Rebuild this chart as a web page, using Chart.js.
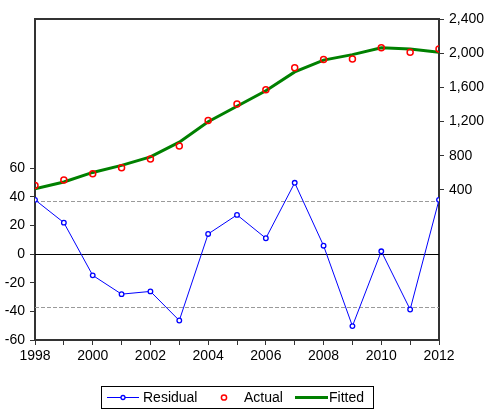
<!DOCTYPE html>
<html>
<head>
<meta charset="utf-8">
<script src="https://cdn.jsdelivr.net/npm/chart.js@4/dist/chart.umd.min.js"></script>
<style>
  html, body { margin: 0; padding: 0; background: #fff; }
  canvas { display: block; }
</style>
</head>
<body>
<canvas id="c" width="486" height="410"></canvas>
<script>
// Observation years
const years = [1998, 1999, 2000, 2001, 2002, 2003, 2004, 2005, 2006, 2007, 2008, 2009, 2010, 2011, 2012];
// Residuals (left axis)
const residual = [37.8, 21.9, -14.9, -28.0, -26.1, -46.4, 14.0, 27.3, 11.0, 49.7, 5.8, -50.3, 1.9, -38.7, 37.8];
// Actual and fitted values (right axis)
const actual = [452, 516, 590, 660, 761, 913, 1212, 1407, 1571, 1831, 1925, 1933, 2065, 2011, 2050];
const fitted = [414, 494, 605, 688, 787, 959, 1198, 1380, 1560, 1781, 1919, 1983, 2063, 2050, 2012];
// Reference levels on the residual axis: zero and +/- one standard error
const zeroLevel = [0];
const seBand = [36.7, -36.7];
// Tick labels shown on each axis
const leftTicks = [-60, -40, -20, 0, 20, 40, 60];
const rightTicks = [400, 800, 1200, 1600, 2000, 2400];
const xLabelYears = [1998, 2000, 2002, 2004, 2006, 2008, 2010, 2012];

const FONT = "'Liberation Sans', Arial, sans-serif";
const AXIS_COLOR = '#333333';

const pts = arr => years.map((x, i) => ({ x: x, y: arr[i] }));

// Horizontal reference lines and the top frame edge
const refLines = {
  id: 'refLines',
  beforeDatasetsDraw(chart) {
    const { ctx, chartArea: a } = chart;
    const yL = chart.scales.yL;
    ctx.save();
    ctx.lineWidth = 1;
    ctx.strokeStyle = '#9a9a9a';
    ctx.setLineDash([4, 2]);
    seBand.forEach(v => {
      const y = Math.round(yL.getPixelForValue(v)) + 0.5;
      ctx.beginPath(); ctx.moveTo(a.left, y); ctx.lineTo(a.right, y); ctx.stroke();
    });
    ctx.setLineDash([]);
    ctx.strokeStyle = '#000';
    zeroLevel.forEach(v => {
      const y = Math.round(yL.getPixelForValue(v)) + 0.5;
      ctx.beginPath(); ctx.moveTo(a.left, y); ctx.lineTo(a.right, y); ctx.stroke();
    });
    ctx.restore();
  },
  afterDraw(chart) {
    const { ctx, chartArea: a } = chart;
    ctx.save();
    ctx.strokeStyle = AXIS_COLOR;
    ctx.lineWidth = 2;
    ctx.beginPath(); ctx.moveTo(a.left - 1, a.top); ctx.lineTo(a.right + 1, a.top); ctx.stroke();
    ctx.restore();
  }
};

// Boxed legend under the plot
const boxLegend = {
  id: 'boxLegend',
  afterDraw(chart) {
    const ctx = chart.ctx;
    const ds = chart.data.datasets;
    ctx.save();
    ctx.strokeStyle = '#000';
    ctx.lineWidth = 1;
    ctx.strokeRect(101.5, 386.5, 272, 22);
    ctx.font = '14px ' + FONT;
    ctx.fillStyle = '#000';
    ctx.textBaseline = 'alphabetic';
    const ty = 402;
    const my = 397.5;
    // Residual: line with marker
    ctx.strokeStyle = ds[0].borderColor; ctx.lineWidth = 1;
    ctx.beginPath(); ctx.moveTo(107, my); ctx.lineTo(139, my); ctx.stroke();
    ctx.beginPath(); ctx.arc(123, my, 2, 0, Math.PI * 2);
    ctx.fillStyle = '#fff'; ctx.fill(); ctx.lineWidth = 1.3; ctx.stroke();
    ctx.fillStyle = '#000';
    ctx.fillText(ds[0].label, 143, ty);
    // Actual: open circle
    ctx.strokeStyle = ds[1].pointBorderColor; ctx.lineWidth = 1.5;
    ctx.beginPath(); ctx.arc(224, my, 2.6, 0, Math.PI * 2); ctx.stroke();
    ctx.fillText(ds[1].label, 244, ty);
    // Fitted: thick line
    ctx.strokeStyle = ds[2].borderColor; ctx.lineWidth = 3;
    ctx.beginPath(); ctx.moveTo(295, my); ctx.lineTo(328, my); ctx.stroke();
    ctx.fillText(ds[2].label, 329, ty);
    ctx.restore();
  }
};

new Chart(document.getElementById('c'), {
  type: 'line',
  data: {
    datasets: [
      {
        label: 'Residual',
        data: pts(residual),
        yAxisID: 'yL',
        borderColor: '#0000ff',
        borderWidth: 1,
        pointRadius: 2.3,
        pointBackgroundColor: '#ffffff',
        pointBorderColor: '#0000ff',
        pointBorderWidth: 1.3,
        tension: 0
      },
      {
        label: 'Actual',
        data: pts(actual),
        yAxisID: 'yR',
        showLine: false,
        pointRadius: 3,
        pointBackgroundColor: 'rgba(0,0,0,0)',
        pointBorderColor: '#ff0000',
        pointBorderWidth: 1.5
      },
      {
        label: 'Fitted',
        data: pts(fitted),
        yAxisID: 'yR',
        borderColor: '#008000',
        borderWidth: 3,
        pointRadius: 0,
        tension: 0
      }
    ]
  },
  options: {
    responsive: false,
    devicePixelRatio: 1,
    animation: false,
    layout: { padding: { top: 19, bottom: 40, left: 0, right: 0 } },
    plugins: { legend: { display: false }, tooltip: { enabled: false } },
    scales: {
      x: {
        type: 'linear',
        position: 'bottom',
        min: years[0],
        max: years[years.length - 1],
        afterBuildTicks: axis => { axis.ticks = years.map(v => ({ value: v })); },
        afterFit: axis => { axis.height = 30; },
        ticks: {
          autoSkip: false,
          maxRotation: 0,
          padding: 3,
          color: '#000',
          font: { family: FONT, size: 14 },
          callback: v => xLabelYears.includes(v) ? String(v) : ''
        },
        grid: { drawOnChartArea: false, drawTicks: true, tickLength: 5, color: AXIS_COLOR, tickWidth: 1 },
        border: { display: true, color: AXIS_COLOR, width: 2 }
      },
      yL: {
        type: 'linear',
        position: 'left',
        min: -60,
        max: 164,
        afterBuildTicks: axis => { axis.ticks = leftTicks.map(v => ({ value: v })); },
        afterFit: axis => { axis.width = 35; },
        ticks: {
          padding: 5,
          color: '#000',
          font: { family: FONT, size: 14 },
          callback: v => String(v)
        },
        grid: { drawOnChartArea: false, drawTicks: true, tickLength: 5, color: AXIS_COLOR, tickWidth: 1 },
        border: { display: true, color: AXIS_COLOR, width: 2 }
      },
      yR: {
        type: 'linear',
        position: 'right',
        min: -1355,
        max: 2400,
        afterBuildTicks: axis => { axis.ticks = rightTicks.map(v => ({ value: v })); },
        afterFit: axis => { axis.width = 47; },
        ticks: {
          padding: 5,
          color: '#000',
          font: { family: FONT, size: 14 },
          callback: v => v.toLocaleString('en-US')
        },
        grid: { drawOnChartArea: false, drawTicks: true, tickLength: 5, color: AXIS_COLOR, tickWidth: 1 },
        border: { display: true, color: AXIS_COLOR, width: 2 }
      }
    }
  },
  plugins: [refLines, boxLegend]
});
</script>
</body>
</html>
